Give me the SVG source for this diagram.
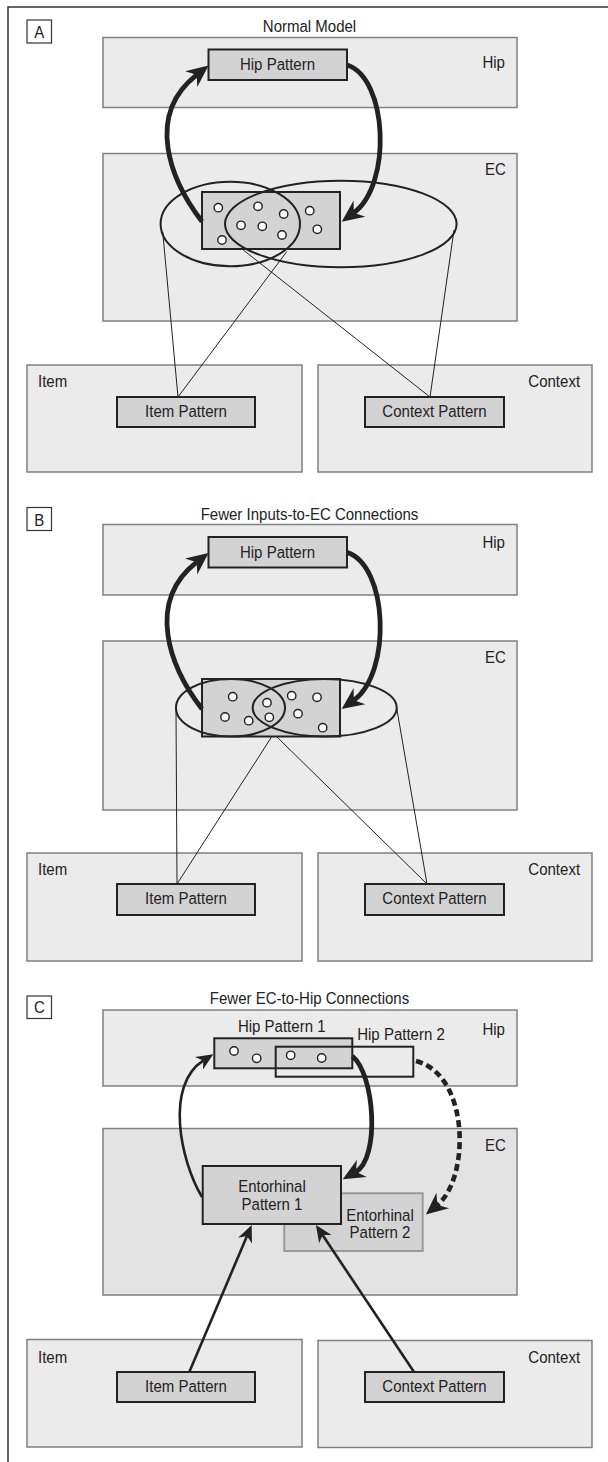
<svg xmlns="http://www.w3.org/2000/svg" width="608" height="1462" viewBox="0 0 608 1462">
<defs>
<style>
.panel{fill:#ebebeb;stroke:#808080;stroke-width:1.5}
.ecc{fill:#e3e3e4}
.pat{fill:#d3d3d4;stroke:#222;stroke-width:2}
.pat2{fill:#d3d3d4;stroke:#9a9a9a;stroke-width:2}
.open{fill:none;stroke:#222;stroke-width:2}
.tag{fill:#fff;stroke:#333;stroke-width:1.2}
.dot{fill:#fff;stroke:#222;stroke-width:1.4}
.ell{fill:none;stroke:#222;stroke-width:2}
.t{font-family:"Liberation Sans",Arial,sans-serif;font-size:16.5px;fill:#222;transform-box:fill-box;transform-origin:center;transform:scaleX(0.91)}
.m{text-anchor:middle}
.e{text-anchor:end}
.thin{fill:none;stroke:#222;stroke-width:1}
.thick{fill:none;stroke:#222;stroke-width:4.8}
.med{fill:none;stroke:#222;stroke-width:2.6}
.dash{fill:none;stroke:#222;stroke-width:4.6;stroke-dasharray:7 4}
.frame{fill:none;stroke:#333;stroke-width:1.5}
</style>
<marker id="big" markerUnits="userSpaceOnUse" markerWidth="40" markerHeight="40" viewBox="-20 -20 40 40" refX="0" refY="0" orient="auto" overflow="visible">
<path d="M15,0 L-7,-10 L0,0 L-7,10 Z" fill="#222"/>
</marker>
<marker id="small" markerUnits="userSpaceOnUse" markerWidth="30" markerHeight="30" viewBox="-15 -15 30 30" refX="0" refY="0" orient="auto" overflow="visible">
<path d="M12,0 L-5,-7.5 L0,0 L-5,7.5 Z" fill="#222"/>
</marker>
</defs>
<rect x="0" y="0" width="608" height="1462" fill="#fff"/>
<path class="frame" d="M8,1462 L8,7 L608,7"/>

<!-- Panel A -->
<g id="tagA"><rect class="tag" x="27" y="20" width="24.5" height="23"/><text class="t m" x="39.3" y="38.3">A</text></g>
<g id="titleA"><text class="t m" x="309.5" y="32.5">Normal Model</text></g>
<g id="hipA"><rect class="panel" x="103" y="37.5" width="414" height="70"/><text class="t e" x="506" y="68">Hip</text></g>
<g id="hipPatternA"><rect class="pat" x="208.5" y="49.5" width="138.5" height="30.5"/><text class="t m" x="277.5" y="70.5">Hip Pattern</text></g>
<g id="ecA"><rect class="panel" x="103" y="153.5" width="414" height="167.5"/><text class="t e" x="507" y="175.5">EC</text></g>
<g id="ecPatternA">
<rect class="pat" x="202" y="192" width="138" height="57"/>
<circle class="dot" cx="218.3" cy="207.7" r="4.2"/><circle class="dot" cx="258" cy="206.3" r="4.2"/><circle class="dot" cx="283.7" cy="214" r="4.2"/><circle class="dot" cx="309.7" cy="210.7" r="4.2"/><circle class="dot" cx="241" cy="225.3" r="4.2"/><circle class="dot" cx="262.3" cy="226.3" r="4.2"/><circle class="dot" cx="317.3" cy="229.3" r="4.2"/><circle class="dot" cx="222" cy="240" r="4.2"/><circle class="dot" cx="282" cy="235" r="4.2"/>
<ellipse class="ell" cx="230.3" cy="224" rx="69.7" ry="42.2"/>
<ellipse class="ell" cx="340.8" cy="224" rx="115.8" ry="43.3"/>
</g>
<g id="itemA"><rect class="panel" x="27" y="365" width="275" height="107"/><text class="t" x="36.6" y="387.5">Item</text></g>
<g id="itemPatternA"><rect class="pat" x="117" y="397" width="138" height="30"/><text class="t m" x="186" y="417.5">Item Pattern</text></g>
<g id="contextA"><rect class="panel" x="318" y="365" width="274" height="107"/><text class="t e" x="582.6" y="387.5">Context</text></g>
<g id="contextPatternA"><rect class="pat" x="365" y="397" width="139" height="30"/><text class="t m" x="434.5" y="417.5">Context Pattern</text></g>

<!-- Panel B -->
<g id="tagB"><rect class="tag" x="27" y="507.5" width="24.5" height="23"/><text class="t m" x="39.3" y="525.8">B</text></g>
<g id="titleB"><text class="t m" x="309.5" y="520">Fewer Inputs-to-EC Connections</text></g>
<g id="hipB"><rect class="panel" x="103" y="524.5" width="414" height="70.5"/><text class="t e" x="506" y="548">Hip</text></g>
<g id="hipPatternB"><rect class="pat" x="208.5" y="537" width="138.5" height="30.5"/><text class="t m" x="277.5" y="558">Hip Pattern</text></g>
<g id="ecB"><rect class="panel" x="103" y="641" width="414" height="169"/><text class="t e" x="507" y="663">EC</text></g>
<g id="ecPatternB">
<rect class="pat" x="202" y="679" width="138" height="57.5"/>
<circle class="dot" cx="232.7" cy="696.7" r="4.2"/><circle class="dot" cx="225" cy="717" r="4.2"/><circle class="dot" cx="248.7" cy="720.7" r="4.2"/><circle class="dot" cx="267" cy="702.7" r="4.2"/><circle class="dot" cx="269.3" cy="717.3" r="4.2"/><circle class="dot" cx="291.7" cy="695.7" r="4.2"/><circle class="dot" cx="317" cy="697.3" r="4.2"/><circle class="dot" cx="298" cy="713.7" r="4.2"/><circle class="dot" cx="322.7" cy="727.7" r="4.2"/>
<ellipse class="ell" cx="230.5" cy="707.8" rx="54.5" ry="28.8"/>
<ellipse class="ell" cx="324.7" cy="707.8" rx="72" ry="28.8"/>
</g>
<g id="itemB"><rect class="panel" x="27" y="853" width="275" height="108"/><text class="t" x="36.6" y="875.5">Item</text></g>
<g id="itemPatternB"><rect class="pat" x="117" y="884" width="138" height="31"/><text class="t m" x="186" y="904.5">Item Pattern</text></g>
<g id="contextB"><rect class="panel" x="318" y="853" width="274" height="108"/><text class="t e" x="582.6" y="875.5">Context</text></g>
<g id="contextPatternB"><rect class="pat" x="365" y="884" width="139" height="31"/><text class="t m" x="434.5" y="904.5">Context Pattern</text></g>

<!-- Panel C -->
<g id="tagC"><rect class="tag" x="27" y="996" width="24.5" height="22.5"/><text class="t m" x="39.3" y="1013">C</text></g>
<g id="titleC"><text class="t m" x="309.5" y="1004.3">Fewer EC-to-Hip Connections</text></g>
<g id="hipC"><rect class="panel" x="103" y="1010" width="414" height="76"/><text class="t e" x="506" y="1035">Hip</text></g>
<g id="hipPattern1C"><rect class="pat" x="214.3" y="1038.3" width="138" height="30"/><text class="t m" x="281.7" y="1032.3">Hip Pattern 1</text>
<circle class="dot" cx="234" cy="1051" r="4.2"/><circle class="dot" cx="256.7" cy="1058.3" r="4.2"/><circle class="dot" cx="290.7" cy="1055.3" r="4.2"/><circle class="dot" cx="321.7" cy="1058" r="4.2"/></g>
<g id="hipPattern2C"><rect class="open" x="275.7" y="1046.7" width="137.6" height="30"/><text class="t m" x="401" y="1040">Hip Pattern 2</text></g>
<g id="ecC"><rect class="panel ecc" x="103" y="1128.5" width="414" height="166.5"/><text class="t e" x="507" y="1150.7">EC</text></g>
<g id="entorhinal2C"><rect class="pat2" x="284.3" y="1193.3" width="138.4" height="57.7"/><text class="t m" x="380" y="1220.7">Entorhinal</text><text class="t m" x="380" y="1238.3">Pattern 2</text></g>
<g id="entorhinal1C"><rect class="pat" x="202.7" y="1166" width="138.3" height="58"/><text class="t m" x="272" y="1191.7">Entorhinal</text><text class="t m" x="272" y="1210">Pattern 1</text></g>
<g id="itemC"><rect class="panel" x="27" y="1339.5" width="275" height="107.5"/><text class="t" x="36.6" y="1362.7">Item</text></g>
<g id="itemPatternC"><rect class="pat" x="117" y="1372" width="138" height="30"/><text class="t m" x="186" y="1392">Item Pattern</text></g>
<g id="contextC"><rect class="panel" x="318" y="1340.5" width="274" height="107"/><text class="t e" x="582.6" y="1363">Context</text></g>
<g id="contextPatternC"><rect class="pat" x="365" y="1372" width="139" height="30"/><text class="t m" x="434.5" y="1392">Context Pattern</text></g>

<g id="connectors">
<path class="thin" d="M162.7,231.7 L178,397"/>
<path class="thin" d="M286.7,251.7 L178,397"/>
<path class="thin" d="M243.3,250 L430,397"/>
<path class="thin" d="M454,230 L430,397"/>
<path class="thick" marker-end="url(#big)" d="M202,221.5 C170,180 145,115 196.7,74.8"/>
<path class="thick" marker-end="url(#big)" d="M347,65 C388,78 392,185 353.8,212.8"/>

<path class="thin" d="M176,708 L177,884"/>
<path class="thin" d="M271.7,736.7 L177,884"/>
<path class="thin" d="M276.7,736.7 L427,884"/>
<path class="thin" d="M396.7,708 L427,884"/>
<path class="thick" marker-end="url(#big)" d="M202,709 C170,667.4 145,602.4 196.7,562.2"/>
<path class="thick" marker-end="url(#big)" d="M347,552.4 C388,565.4 392,672.4 353.8,700.2"/>

<path class="med" marker-end="url(#small)" d="M202,1197 C180,1160 165,1085 203.2,1060.6"/>
<path class="thick" marker-end="url(#big)" d="M352.3,1056 C375,1075 380,1158 355.8,1171.8"/>
<path class="dash" marker-end="url(#big)" d="M416,1061 C470,1075 470,1178 437.4,1205"/>
<path class="med" marker-end="url(#small)" d="M189.3,1372 L247,1236"/>
<path class="med" marker-end="url(#small)" d="M414,1372 L322.6,1235"/>
</g>
</svg>
